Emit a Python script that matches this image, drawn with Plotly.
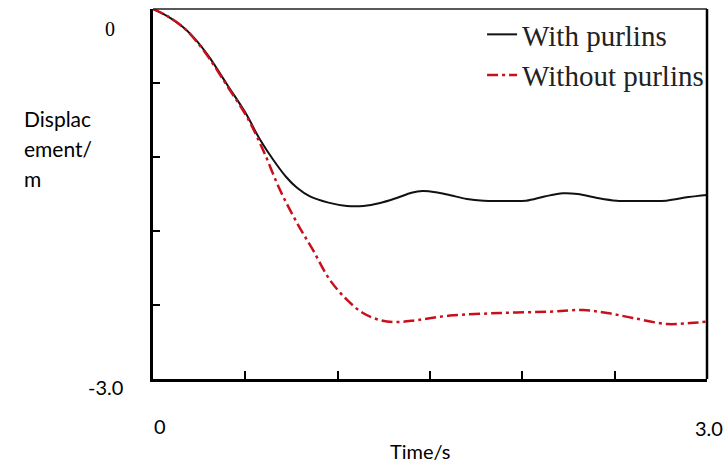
import plotly.graph_objects as go

# Time samples (s) and vertical displacement (m) of the two roof models
t_with = [0.0, 0.08, 0.162, 0.22, 0.30, 0.40, 0.50, 0.58, 0.65, 0.72,
          0.78, 0.85, 0.95, 1.05, 1.14, 1.23, 1.32, 1.40, 1.46, 1.53,
          1.61, 1.70, 1.79, 1.90, 2.02, 2.12, 2.22, 2.30, 2.40, 2.51,
          2.65, 2.78, 2.90, 3.0]
d_with = [0.0, -0.06, -0.146, -0.23, -0.38, -0.61, -0.84, -1.06, -1.22, -1.36,
          -1.45, -1.52, -1.57, -1.597, -1.597, -1.573, -1.532, -1.49, -1.476, -1.485,
          -1.51, -1.54, -1.554, -1.556, -1.554, -1.52, -1.494, -1.50, -1.53, -1.554,
          -1.556, -1.554, -1.525, -1.508]

t_without = [0.0, 0.08, 0.162, 0.22, 0.30, 0.40, 0.509, 0.596, 0.688, 0.780,
             0.866, 0.958, 1.051, 1.137, 1.229, 1.321, 1.430, 1.608, 1.879, 2.150,
             2.329, 2.459, 2.599, 2.783, 2.908, 3.0]
d_without = [0.0, -0.06, -0.146, -0.235, -0.39, -0.62, -0.876, -1.143, -1.468, -1.735,
             -1.954, -2.197, -2.359, -2.465, -2.522, -2.538, -2.522, -2.486, -2.465, -2.454,
             -2.441, -2.465, -2.505, -2.554, -2.546, -2.535]

series_names = ["With purlins", "Without purlins"]

x_ticks = [0.5, 1.0, 1.5, 2.0, 2.5]
y_ticks = [-0.6, -1.2, -1.8, -2.4]
x_end_labels = ["0", "3.0"]
y_end_labels = ["0", "-3.0"]
x_title = "Time/s"
y_title_lines = ["Displac", "ement/", "m"]

SANS = "Lato, 'Open Sans', sans-serif"
SERIF = "'Liberation Serif', 'Times New Roman', serif"

fig = go.Figure()
fig.add_trace(go.Scatter(
    x=t_with, y=d_with, name=series_names[0], mode="lines",
    line=dict(color="#111111", width=2, shape="spline", smoothing=1.0),
))
fig.add_trace(go.Scatter(
    x=t_without, y=d_without, name=series_names[1], mode="lines",
    line=dict(color="#c8101c", width=2.5, shape="spline", smoothing=1.0,
              dash="11px,4px,3px,4px"),
))

fig.update_layout(
    width=727, height=464,
    margin=dict(l=153, r=20, t=9, b=85),
    plot_bgcolor="white", paper_bgcolor="white",
    showlegend=True,
    legend=dict(
        x=0.594, y=1.0, xanchor="left", yanchor="top",
        font=dict(family=SERIF, size=29, color="#222222"),
        bgcolor="rgba(0,0,0,0)", borderwidth=0,
        tracegroupgap=0,
    ),
    xaxis=dict(
        range=[0, 3.0], tickvals=x_ticks, showticklabels=False,
        ticks="inside", ticklen=8, tickwidth=2, tickcolor="black",
        showline=True, linecolor="black", linewidth=3,
        showgrid=False, zeroline=False,
    ),
    yaxis=dict(
        range=[-3.0, 0], tickvals=y_ticks, showticklabels=False,
        ticks="inside", ticklen=7, tickwidth=2, tickcolor="black",
        showline=True, linecolor="black", linewidth=3,
        showgrid=False, zeroline=False,
    ),
)

# Top and right edges of the frame
fig.add_shape(type="line", xref="paper", yref="paper", x0=0, x1=1, y0=1, y1=1,
              line=dict(color="#222222", width=1.5))
fig.add_shape(type="line", xref="paper", yref="paper", x0=1, x1=1, y0=0, y1=1,
              line=dict(color="black", width=2.5))

# Axis end labels
fig.add_annotation(x=0, y=0.0, xref="paper", yref="y",
                   text=y_end_labels[0], showarrow=False,
                   xanchor="center", yanchor="middle", xshift=-43, yshift=-20,
                   font=dict(family=SERIF, size=20, color="black"))
fig.add_annotation(x=0, y=-3.0, xref="paper", yref="y",
                   text=y_end_labels[1], showarrow=False,
                   xanchor="center", yanchor="middle", xshift=-48, yshift=-8,
                   font=dict(family=SANS, size=20, color="black"))
fig.add_annotation(x=0, y=0, xref="x", yref="paper",
                   text=x_end_labels[0], showarrow=False,
                   xanchor="center", yanchor="middle", xshift=7, yshift=-47,
                   font=dict(family=SANS, size=20, color="black"))
fig.add_annotation(x=3.0, y=0, xref="x", yref="paper",
                   text=x_end_labels[1], showarrow=False,
                   xanchor="center", yanchor="middle", xshift=2, yshift=-49,
                   font=dict(family=SANS, size=20, color="black"))

# Axis titles
fig.add_annotation(x=0.5, y=0, xref="paper", yref="paper",
                   text=x_title, showarrow=False,
                   xanchor="center", yanchor="middle", xshift=-10, yshift=-72,
                   font=dict(family=SANS, size=20, color="black"))
for i, line_text in enumerate(y_title_lines):
    fig.add_annotation(x=0, y=1, xref="paper", yref="paper",
                       text=line_text, showarrow=False,
                       xanchor="left", yanchor="middle",
                       xshift=-131, yshift=-109 - 30 * i,
                       font=dict(family=SANS, size=21, color="black"))

fig.write_html("out.html")
